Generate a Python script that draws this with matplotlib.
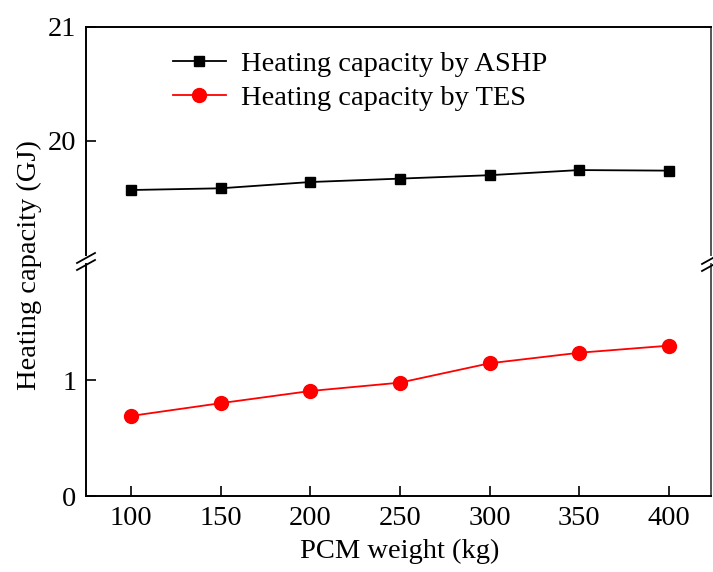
import matplotlib
matplotlib.use("Agg")
import matplotlib.pyplot as plt
from matplotlib.lines import Line2D

plt.rcParams['font.family'] = ['Liberation Serif', 'DejaVu Serif']
FS = 20.5
plt.rcParams['font.size'] = FS

weights = [100, 150, 200, 250, 300, 350, 400]
ashp = [19.57, 19.585, 19.64, 19.67, 19.70, 19.745, 19.74]
tes = [0.69, 0.80, 0.905, 0.977, 1.144, 1.235, 1.296]
xticks = [100, 150, 200, 250, 300, 350, 400]

W, H = 713, 572
fig = plt.figure(figsize=(W / 100, H / 100), dpi=100)

def fx(px):
    return px / W

def fy(py):
    return 1 - py / H

L, R = 86, 711
ax_top = fig.add_axes([fx(L), fy(255), fx(R) - fx(L), fy(27) - fy(255)])
ax_bot = fig.add_axes([fx(L), fy(496), fx(R) - fx(L), fy(264) - fy(496)])

for ax in (ax_top, ax_bot):
    ax.set_xlim(75, 423.5)
    for s in ax.spines.values():
        s.set_linewidth(1.4)
    ax.tick_params(direction='in', length=7, width=1.2, pad=7, labelsize=FS)

ax_top.spines['bottom'].set_visible(False)
ax_bot.spines['top'].set_visible(False)
ax_top.spines['right'].set_color('#555555')
ax_bot.spines['right'].set_color('#555555')

ax_top.set_ylim(19, 21)
ax_top.set_yticks([20, 21])
ax_top.set_xticks([])
ax_top.tick_params(axis='x', which='both', bottom=False, labelbottom=False)

ax_bot.set_ylim(0, 2)
ax_bot.set_yticks([0, 1])
ax_bot.set_xticks(xticks)
ax_bot.set_xticklabels([str(v) for v in xticks])

l1, = ax_top.plot(weights, ashp, color='black', marker='s', markersize=7.5,
                  linewidth=1.3, label='Heating capacity by ASHP')
l2, = ax_bot.plot(weights, tes, color='red', marker='o', markersize=10,
                  linewidth=1.3, label='Heating capacity by TES')

ax_top.legend(handles=[l1, l2], loc='upper left', frameon=False,
              bbox_to_anchor=(fx(173), fy(51)), bbox_transform=fig.transFigure,
              handlelength=1.85, handletextpad=0.55, labelspacing=0.28,
              borderaxespad=0, borderpad=0, fontsize=FS)

# break marks
for (x0, y0, x1, y1) in [(77, 263, 95, 253), (77, 270, 95, 260),
                         (702, 264, 720, 254), (702, 271, 720, 261)]:
    fig.add_artist(Line2D([fx(x0), fx(x1)], [fy(y0), fy(y1)],
                          transform=fig.transFigure, color='black', linewidth=1.3))

fig.text(fx(29), fy(265), 'Heating capacity (GJ)', rotation=90,
         ha='center', va='center', fontsize=FS)
fig.text(fx(400), fy(551), 'PCM weight (kg)', ha='center', va='center', fontsize=FS)

fig.savefig('out.png', dpi=100)
